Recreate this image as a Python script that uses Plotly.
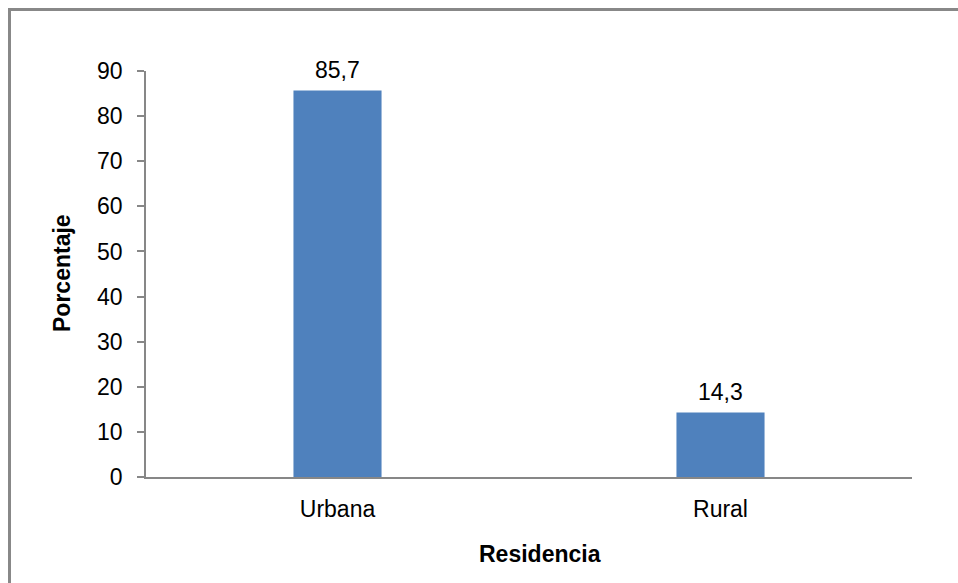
import plotly.graph_objects as go

# Residence distribution (percent)
categories = ["Urbana", "Rural"]
values = [85.7, 14.3]
value_labels = ["85,7", "14,3"]
y_ticks = [0, 10, 20, 30, 40, 50, 60, 70, 80, 90]

W, H = 958, 583
L, R, T, B = 146, 46, 71, 106
pw, ph = W - L - R, H - T - B

FONT = "Liberation Sans, Arial, sans-serif"
AXIS_GREY = "#878787"
FS = 23

fig = go.Figure(
    go.Bar(
        x=categories,
        y=values,
        marker=dict(color="#4F81BD", line=dict(width=0)),
        width=0.23,
        hoverinfo="skip",
    )
)

# Value labels above each bar
for cat, val, lab in zip(categories, values, value_labels):
    fig.add_annotation(
        x=cat, y=val, text=lab, showarrow=False,
        yanchor="middle", yshift=20,
        font=dict(family=FONT, size=FS, color="#000000"),
    )

# Axis titles
fig.add_annotation(
    xref="paper", yref="paper",
    x=(540 - L) / pw, y=(H - B - 554) / ph,
    text="<b>Residencia</b>", showarrow=False,
    xanchor="center", yanchor="middle",
    font=dict(family=FONT, size=FS, color="#000000"),
)
fig.add_annotation(
    xref="paper", yref="paper",
    x=(62 - L) / pw, y=(H - B - 273) / ph,
    text="<b>Porcentaje</b>", showarrow=False, textangle=-90,
    xanchor="center", yanchor="middle",
    font=dict(family=FONT, size=FS, color="#000000"),
)

# Outer chart frame: a bordered box whose top and left edges fall inside the canvas
fig.add_annotation(
    xref="paper", yref="paper",
    x=(8 - L) / pw, y=(H - B - 8) / ph,
    xanchor="left", yanchor="top",
    text=" ", showarrow=False,
    width=1100, height=700, borderpad=0,
    bordercolor="#888888", borderwidth=3,
)

fig.update_layout(
    width=W, height=H,
    margin=dict(l=L, r=R, t=T, b=B),
    paper_bgcolor="white",
    plot_bgcolor="white",
    showlegend=False,
    font=dict(family=FONT, size=FS, color="#000000"),
    xaxis=dict(
        showline=True, linecolor=AXIS_GREY, linewidth=1.5,
        ticks="", showgrid=False, zeroline=False,
        tickfont=dict(family=FONT, size=FS, color="#000000"),
        ticklabelstandoff=11,
    ),
    yaxis=dict(
        range=[0, 90], tickvals=y_ticks,
        showline=True, linecolor=AXIS_GREY, linewidth=1.5,
        ticks="outside", ticklen=7, tickcolor=AXIS_GREY, tickwidth=1.5,
        showgrid=False, zeroline=False,
        tickfont=dict(family=FONT, size=FS, color="#000000"),
        ticklabelstandoff=10,
    ),
)

fig.write_html(
    "out.html",
    config={"displayModeBar": False},
    post_script="document.body.style.margin='0';document.body.style.overflow='hidden';",
)
